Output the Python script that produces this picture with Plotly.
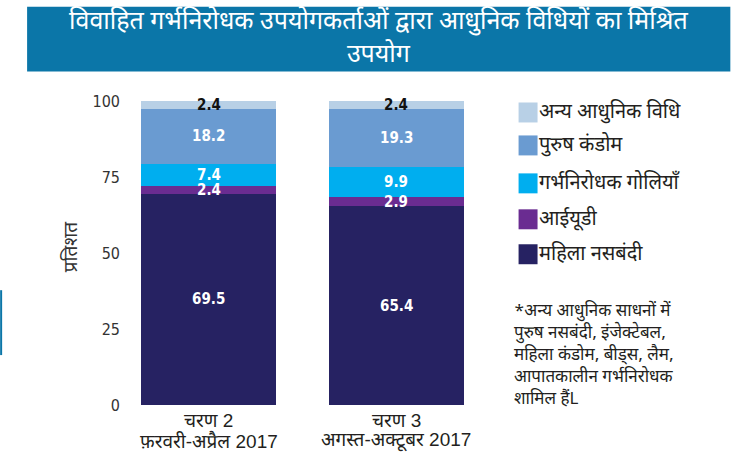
import plotly.graph_objects as go

# ---- data ----
phase_labels = ["चरण 2", "चरण 3"]
period_labels = ["फ़रवरी-अप्रैल 2017", "अगस्त-अक्टूबर 2017"]
series_names = ["महिला नसबंदी", "आईयूडी", "गर्भनिरोधक गोलियाँ", "पुरुष कंडोम", "अन्य आधुनिक विधि"]
female_sterilization = [69.5, 65.4]
iud = [2.4, 2.9]
pills = [7.4, 9.9]
male_condom = [18.2, 19.3]
other_modern = [2.4, 2.4]
y_ticks = [0, 25, 50, 75, 100]

series_values = [female_sterilization, iud, pills, male_condom, other_modern]
colors = ["#262262", "#6a2c91", "#00aeef", "#6a9bd1", "#b8d0e6"]
label_colors = ["white", "white", "white", "white", "#111111"]

title_text = "विवाहित गर्भनिरोधक उपयोगकर्ताओं द्वारा आधुनिक विधियों का मिश्रित<br>उपयोग"
y_title = "प्रतिशत"
footnote = ("*अन्य आधुनिक साधनों में<br>पुरुष नसबंदी, इंजेक्टेबल,<br>"
            "महिला कंडोम, बीड्स, लैम,<br>आपातकालीन गर्भनिरोधक<br>शामिल हैंL")

DEV = "Noto Sans Devanagari, Lohit Devanagari, Noto Sans, sans-serif"
NARROW = "DejaVu Sans Condensed, Liberation Sans Narrow, Arial Narrow, Liberation Sans, sans-serif"

W, H = 731, 456
L, R_EDGE = 121, 490.4
TOP, BOT = 100.5, 405

def px(xp):
    return (xp - L) / (R_EDGE - L)

def py(yp):
    return (BOT - yp) / (BOT - TOP)

x_idx = list(range(len(phase_labels)))

fig = go.Figure()
for name, vals, col in zip(series_names, series_values, colors):
    fig.add_trace(go.Bar(x=x_idx, y=vals, name=name, marker=dict(color=col, line=dict(width=0)),
                         width=0.722, showlegend=False, hoverinfo="skip"))

annotations = []
# segment labels
for i in x_idx:
    base = 0.0
    for vals, lc in zip(series_values, label_colors):
        v = vals[i]
        annotations.append(dict(x=i, y=base + v / 2, xref="x", yref="y", text=f"<b>{v:.1f}</b>",
                                showarrow=False, font=dict(family=NARROW, size=15, color=lc),
                                yanchor="middle"))
        base += v

# category labels (two lines)
for i in x_idx:
    annotations.append(dict(x=i, y=py(421), xref="x", yref="paper", text=phase_labels[i],
                            showarrow=False, font=dict(family="Liberation Sans, " + DEV, size=19, color="#231f20"),
                            yanchor="middle"))
    annotations.append(dict(x=i, y=py(441), xref="x", yref="paper", text=period_labels[i],
                            showarrow=False, font=dict(family="Liberation Sans, " + DEV, size=19, color="#231f20"),
                            yanchor="middle"))

# title
annotations.append(dict(x=px((27 + 731) / 2), y=py(38), xref="paper", yref="paper", text=title_text,
                        showarrow=False, font=dict(family=DEV, size=25, color="white"),
                        xanchor="center", yanchor="middle"))
# y axis title
annotations.append(dict(x=px(72), y=py(247), xref="paper", yref="paper", text=y_title, textangle=-90,
                        showarrow=False, font=dict(family=DEV, size=19, color="#333333"),
                        xanchor="center", yanchor="middle"))

shapes = []
# title box
shapes.append(dict(type="rect", xref="paper", yref="paper", x0=px(27), x1=px(731), y0=py(71), y1=py(6),
                   fillcolor="#0b76a8", line=dict(width=0), layer="below"))
# small blue edge mark
shapes.append(dict(type="rect", xref="paper", yref="paper", x0=px(0), x1=px(2), y0=py(355), y1=py(290),
                   fillcolor="#0b76a8", line=dict(width=0)))

# legend (top item = last series)
legend_y = [112, 145, 183, 219, 254]
for k, (name, col) in enumerate(zip(series_names[::-1], colors[::-1])):
    yc = legend_y[k]
    shapes.append(dict(type="rect", xref="paper", yref="paper", x0=px(519), x1=px(538),
                       y0=py(yc + 10), y1=py(yc - 10), fillcolor=col, line=dict(width=0)))
    annotations.append(dict(x=px(537), y=py(yc), xref="paper", yref="paper", text=name,
                            showarrow=False, font=dict(family=DEV, size=20, color="#231f20"),
                            xanchor="left", yanchor="middle"))

# footnote
annotations.append(dict(x=px(512), y=py(298), xref="paper", yref="paper", text=footnote,
                        showarrow=False, align="left", font=dict(family=DEV, size=17, color="#231f20"),
                        xanchor="left", yanchor="top"))

fig.update_layout(
    width=W, height=H,
    barmode="stack",
    plot_bgcolor="white", paper_bgcolor="white",
    margin=dict(l=L, r=W - R_EDGE, t=TOP, b=H - BOT, pad=0, autoexpand=False),
    xaxis=dict(tickmode="array", tickvals=x_idx, ticktext=["", ""], range=[-0.468, 1.5],
               showgrid=False, zeroline=False, showline=False, ticks="", automargin=False),
    yaxis=dict(range=[0, 100], tickvals=y_ticks, showgrid=False, zeroline=False, showline=False,
               ticks="", automargin=False, tickfont=dict(family=NARROW, size=16, color="#333333")),
    annotations=annotations,
    shapes=shapes,
    showlegend=False,
    hovermode=False,
)

fig.write_html("out.html", config={"displayModeBar": False},
               post_script="document.body.style.margin='0';document.body.style.overflow='hidden';")
